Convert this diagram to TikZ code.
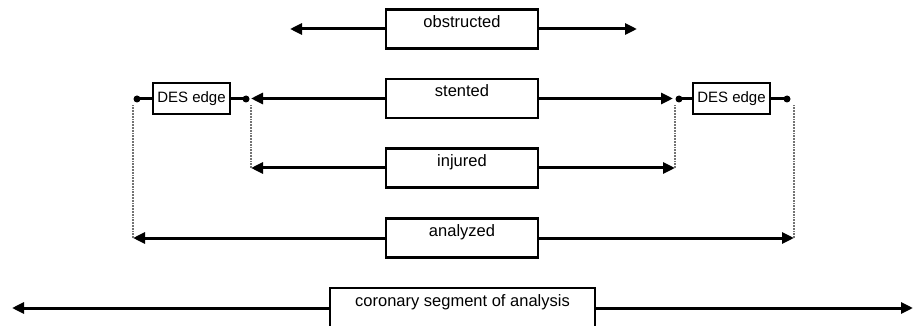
\documentclass[tikz,border=0pt]{standalone}
\usepackage{fontspec}
\setmainfont{Liberation Sans}
\usetikzlibrary{arrows.meta}
\begin{document}
\begin{tikzpicture}[x=1pt, y=-1pt, line width=3pt,
  box/.style={draw, line width=2.2pt, minimum width=152pt, minimum height=39pt, inner sep=0pt, text height=12pt, text depth=15pt, font=\fontsize{16.5}{19}\selectfont},
  desbox/.style={draw, line width=2pt, minimum width=77pt, minimum height=31pt, inner sep=0pt, font=\fontsize{15}{18}\selectfont},
  dot/.style={circle, fill, inner sep=0pt, minimum size=7pt},
  tip/.style={-{Triangle[length=12pt,width=11pt]}},
  link/.style={black!55, line width=1.8pt, densely dotted}]
\useasboundingbox (0,0) rectangle (916,326);
\node[box] (B_0) at (462,29) {obstructed};
\coordinate (T_0_l) at (290,29);
\coordinate (T_0_r) at (637,29);
\draw[tip] (B_0) -- (T_0_l);
\draw[tip] (B_0) -- (T_0_r);
\node[box] (B_1) at (462,98.5) {stented};
\node[dot] (D_0) at (137,99) {};
\node[desbox] (E_0) at (191.5,99) {DES edge};
\node[dot] (D_1) at (246,99) {};
\node[dot] (D_2) at (679,99) {};
\node[desbox] (E_1) at (731.5,99) {DES edge};
\node[dot] (D_3) at (787,99) {};
\draw (D_0.center) -- (E_0);
\draw (E_0) -- (D_1.center);
\draw (D_2.center) -- (E_1);
\draw (E_1) -- (D_3.center);
\coordinate (T_1_l) at (251,98.5);
\coordinate (T_1_r) at (673,98.5);
\draw[tip] (B_1) -- (T_1_l);
\draw[tip] (B_1) -- (T_1_r);
\node[box] (B_2) at (462,168) {injured};
\coordinate (T_2_l) at (251,168);
\coordinate (T_2_r) at (675,168);
\draw[tip] (B_2) -- (T_2_l);
\draw[tip] (B_2) -- (T_2_r);
\draw[link] (T_2_l) -- (T_2_l |- D_1.south);
\draw[link] (T_2_r) -- (T_2_r |- D_2.south);
\node[box] (B_3) at (462,238) {analyzed};
\coordinate (T_3_l) at (133,238);
\coordinate (T_3_r) at (794,238);
\draw[tip] (B_3) -- (T_3_l);
\draw[tip] (B_3) -- (T_3_r);
\draw[link] (T_3_l) -- (T_3_l |- D_0.south);
\draw[link] (T_3_r) -- (T_3_r |- D_3.south);
\node[box, minimum width=265pt, minimum height=40pt] (B_4) at (462.5,308) {coronary segment of analysis};
\coordinate (T_4_l) at (12,308);
\coordinate (T_4_r) at (913,308);
\draw[tip] (B_4) -- (T_4_l);
\draw[tip] (B_4) -- (T_4_r);
\end{tikzpicture}
\end{document}
